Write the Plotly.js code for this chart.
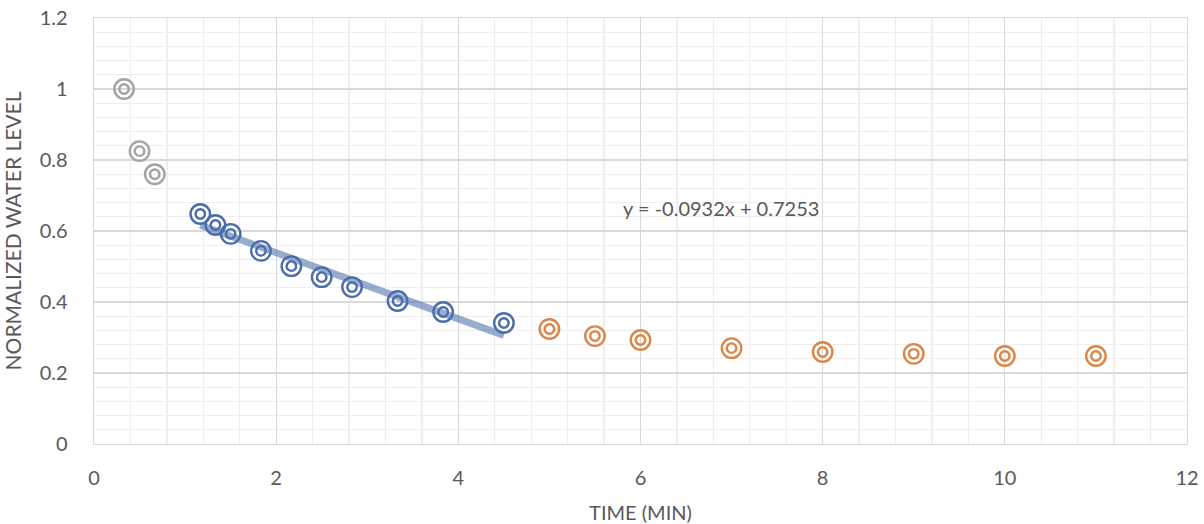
<!DOCTYPE html>
<html><head><meta charset="utf-8">
<script src="https://cdn.plot.ly/plotly-3.0.1.min.js"></script>
<style>html,body{margin:0;padding:0;background:#fff}#chart{width:1204px;height:524px}</style>
</head><body><div id="chart"></div>
<script>
// Early points (gray)
const grayX = [0.33, 0.5, 0.667];
const grayY = [1.0, 0.825, 0.76];
// Fitted points (blue)
const blueX = [1.167, 1.333, 1.5, 1.833, 2.167, 2.5, 2.833, 3.333, 3.833, 4.5];
const blueY = [0.648, 0.617, 0.592, 0.544, 0.501, 0.470, 0.442, 0.403, 0.372, 0.341];
// Late points (orange)
const orangeX = [5, 5.5, 6, 7, 8, 9, 10, 11];
const orangeY = [0.324, 0.304, 0.293, 0.270, 0.259, 0.254, 0.248, 0.248];
// Linear trendline on blue series
const trendSlope = -0.0932;
const trendIntercept = 0.7253;
const trendLabel = "y = -0.0932x + 0.7253";

const FONT = "Lato, 'Open Sans', sans-serif";
const TXT = '#595959';
const trendX = [blueX[0], blueX[blueX.length - 1]];
const trendY = trendX.map(x => trendSlope * x + trendIntercept);

function rings(x, y, color) {
  return [
    {x, y, type: 'scatter', mode: 'markers', hoverinfo: 'skip',
     marker: {symbol: 'circle-open', size: 19.5, color, line: {color, width: 2.4}}},
    {x, y, type: 'scatter', mode: 'markers', hoverinfo: 'skip',
     marker: {symbol: 'circle-open', size: 9.5, color, line: {color, width: 2.4}}}
  ];
}

const data = [
  {x: trendX, y: trendY, type: 'scatter', mode: 'lines', hoverinfo: 'skip',
   line: {color: 'rgba(68,104,170,0.55)', width: 7}},
  ...rings(grayX, grayY, '#a3a3a3'),
  ...rings(blueX, blueY, '#4a6cab'),
  ...rings(orangeX, orangeY, '#dc8547')
];

const layout = {
  width: 1204, height: 524,
  margin: {l: 94, r: 17, t: 18, b: 80},
  paper_bgcolor: '#fff', plot_bgcolor: '#fff',
  showlegend: false,
  font: {family: FONT, color: TXT, size: 20},
  xaxis: {
    range: [0, 12], dtick: 2, tick0: 0, showgrid: true, gridcolor: '#d9d9d9', gridwidth: 1.3,
    minor: {dtick: 0.4, showgrid: true, gridcolor: '#eeeeee', gridwidth: 1.3},
    zeroline: false, showline: true, linecolor: '#d9d9d9', linewidth: 1.3, mirror: true,
    ticks: '', ticklen: 0, ticklabelstandoff: 16, tickfont: {family: FONT, size: 20, color: TXT},
    title: {text: 'TIME (MIN)', font: {family: FONT, size: 20, color: TXT}, standoff: 18}
  },
  yaxis: {
    range: [0, 1.2], dtick: 0.2, tick0: 0, showgrid: true, gridcolor: '#d9d9d9', gridwidth: 1.3,
    minor: {dtick: 0.04, showgrid: true, gridcolor: '#eeeeee', gridwidth: 1.3},
    zeroline: false, showline: true, linecolor: '#d9d9d9', linewidth: 1.3, mirror: true,
    ticks: '', ticklen: 0, tickfont: {family: FONT, size: 20, color: TXT},
    ticklabelstandoff: 21,
    title: {text: 'NORMALIZED WATER LEVEL', font: {family: FONT, size: 21, color: TXT}, standoff: 12}
  },
  annotations: [{
    x: 6.88, y: 0.665, xref: 'x', yref: 'y', text: trendLabel, showarrow: false,
    font: {family: FONT, size: 20, color: TXT}
  }]
};

Plotly.newPlot('chart', data, layout, {displayModeBar: false, staticPlot: true});
</script></body></html>
